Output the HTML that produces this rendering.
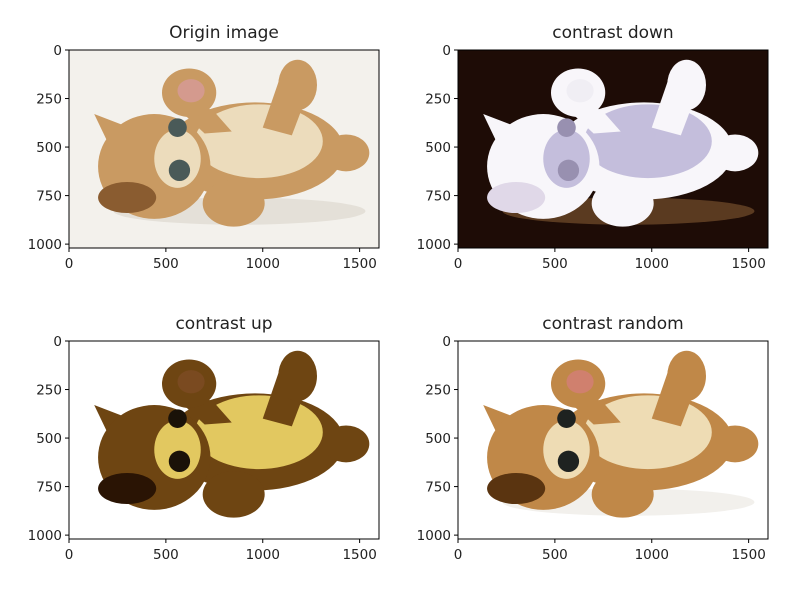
<!DOCTYPE html>
<html><head><meta charset="utf-8"><style>
body{margin:0;background:#fff;}
svg text{font-family:"DejaVu Sans","Liberation Sans",sans-serif;fill:#222;}
</style></head><body>
<svg id="fig" width="788" height="587" viewBox="0 0 788 587" xmlns="http://www.w3.org/2000/svg">
<g id="panels"></g>
</svg>
<script>
const xTicks=[0,500,1000,1500];
const yTicks=[0,250,500,750,1000];
const titles=["Origin image","contrast down","contrast up","contrast random"];
const boxes=[[69,50],[458,50],[69,341],[458,341]];
const styles=[
 {bg:"#f3f1ec",fur:"#c99a62",belly:"#ecdcbc",pad:"#d49a8e",dark:"#8a5c30",eye:"#4a5a58",shadow:"#e4e0d8"},
 {bg:"#1e0c06",fur:"#f8f6fa",belly:"#c4bedc",pad:"#f0eef4",dark:"#e0d8e8",eye:"#9890b0",shadow:"#5a3a20"},
 {bg:"#ffffff",fur:"#6e4512",belly:"#e2c860",pad:"#7a4a20",dark:"#2a1404",eye:"#1a1208",shadow:"#ffffff"},
 {bg:"#ffffff",fur:"#c08848",belly:"#eedcb4",pad:"#d0806e",dark:"#5a3410",eye:"#1e2220",shadow:"#f2f0ec"}
];
const catShapes=[
 ['ellipse',{cx:880,cy:830,rx:650,ry:70},'shadow'],
 ['polygon',{points:'130,330 340,410 260,600'},'fur'],
 ['ellipse',{cx:960,cy:520,rx:460,ry:250},'fur'],
 ['ellipse',{cx:980,cy:470,rx:330,ry:190},'belly'],
 ['path',{d:'M540,170 L760,330 L840,420 L700,430 L560,300 Z'},'fur'],
 ['ellipse',{cx:620,cy:220,rx:140,ry:125},'fur'],
 ['ellipse',{cx:630,cy:210,rx:70,ry:60},'pad'],
 ['path',{d:'M1100,110 L1260,150 L1150,440 L1000,400 Z'},'fur'],
 ['ellipse',{cx:1180,cy:180,rx:100,ry:130},'fur'],
 ['ellipse',{cx:1430,cy:530,rx:120,ry:95},'fur'],
 ['ellipse',{cx:440,cy:600,rx:290,ry:270},'fur'],
 ['ellipse',{cx:560,cy:560,rx:120,ry:150},'belly'],
 ['ellipse',{cx:300,cy:760,rx:150,ry:80},'dark'],
 ['ellipse',{cx:850,cy:790,rx:160,ry:120},'fur'],
 ['circle',{cx:560,cy:400,r:48},'eye'],
 ['circle',{cx:570,cy:620,r:55},'eye']
];
const W=310,H=198,XMAX=1600,YMAX=1020;
const NS="http://www.w3.org/2000/svg";
const root=document.getElementById('panels');
function mk(t,a,p){const e=document.createElementNS(NS,t);for(const k in a)e.setAttribute(k,a[k]);p.appendChild(e);return e;}
boxes.forEach((b,i)=>{
 const [x0,y0]=b;const s=styles[i];
 const sx=v=>x0+v/XMAX*W, sy=v=>y0+v/YMAX*H;
 const g=mk('g',{},root);
 
 
 const bg=mk('rect',{x:x0,y:y0,width:W,height:H,fill:s.bg},g);
 
 
 const c=mk('g',{transform:`translate(${x0},${y0}) scale(${W/XMAX},${H/YMAX})`},g);
 
 
 catShapes.forEach(sh=>{const a=Object.assign({},sh[1],{fill:s[sh[2]]});mk(sh[0],a,c);});
 const fr=mk('rect',{x:x0,y:y0,width:W,height:H,fill:'none',stroke:'#000','stroke-width':1},g);
 
 
 const t=mk('text',{x:x0+W/2,y:y0-12,'text-anchor':'middle','font-size':'17'},g);
 t.textContent=titles[i];
 
 
 xTicks.forEach(v=>{
  mk('line',{x1:sx(v),x2:sx(v),y1:y0+H,y2:y0+H+4,stroke:'#000'},g);
  const l=mk('text',{x:sx(v),y:y0+H+20,'text-anchor':'middle','font-size':'13.5'},g);
  l.textContent=v;
  
  
 });
 yTicks.forEach(v=>{
  mk('line',{x1:x0-4,x2:x0,y1:sy(v),y2:sy(v),stroke:'#000'},g);
  const l=mk('text',{x:x0-7,y:sy(v)+5,'text-anchor':'end','font-size':'13.5'},g);
  l.textContent=v;
  
  
 });
});
</script>
</body></html>
